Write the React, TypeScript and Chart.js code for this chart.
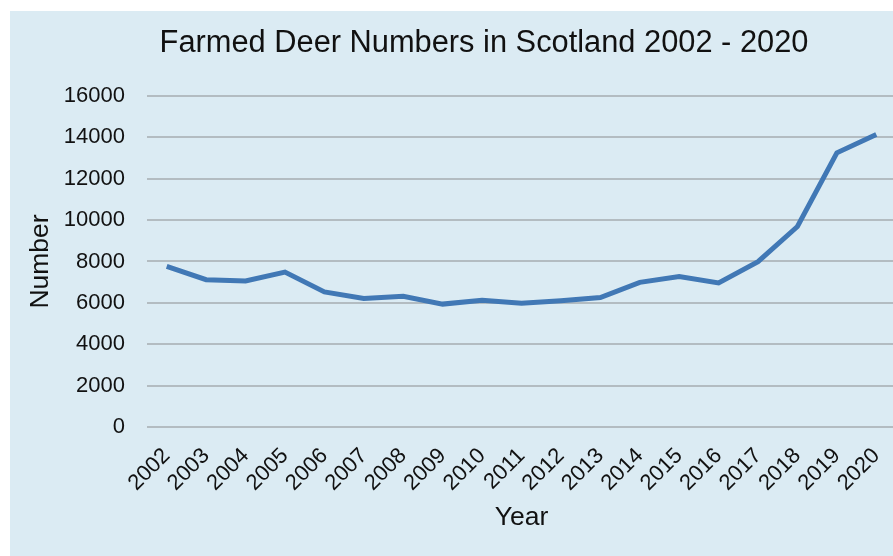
import React, { useEffect, useRef } from "react";
import { Chart, registerables } from "chart.js";

Chart.register(...registerables);

const years = ["2002","2003","2004","2005","2006","2007","2008","2009","2010","2011","2012","2013","2014","2015","2016","2017","2018","2019","2020"];
const deerNumbers = [7760, 7120, 7060, 7490, 6530, 6210, 6320, 5940, 6130, 5980, 6100, 6260, 6990, 7270, 6960, 7990, 9690, 13250, 14140];
const yTicks = [0, 2000, 4000, 6000, 8000, 10000, 12000, 14000, 16000];

const FONT = "'Liberation Sans', Arial, Helvetica, sans-serif";
const BG = "#dbebf3";

export default function App() {
  const ref = useRef<HTMLCanvasElement | null>(null);
  useEffect(() => {
    if (!ref.current) return;
    const bgPlugin = {
      id: "bg",
      beforeDraw(chart: any) {
        const { ctx, width, height } = chart;
        ctx.save();
        ctx.fillStyle = BG;
        ctx.fillRect(0, 0, width, height);
        ctx.restore();
      },
      afterLayout(chart: any) {
        const tb = chart.titleBlock;
        if (tb) {
          tb.left += 26;
          tb.right += 26;
        }
      },
    };
    const chart = new Chart(ref.current, {
      type: "line",
      data: {
        labels: years,
        datasets: [
          {
            label: "Farmed Deer",
            data: deerNumbers,
            borderColor: "#4178b5",
            borderWidth: 5,
            pointRadius: 0,
            tension: 0,
            fill: false,
          },
        ],
      },
      options: {
        responsive: false,
        animation: false,
        devicePixelRatio: 1,
        layout: { padding: { left: 10, right: 62, top: 0, bottom: 16 } },
        plugins: {
          legend: { display: false },
          tooltip: { enabled: false },
          title: {
            display: true,
            text: "Farmed Deer Numbers in Scotland 2002 - 2020",
            color: "#111",
            font: { family: FONT, size: 30.8, weight: "normal" },
            padding: { top: 14, bottom: 34 },
          },
        },
        scales: {
          x: {
            offset: true,
            afterFit(scale: any) {
              scale.height = 113;
            },
            grid: { display: false, drawTicks: false },
            border: { display: false },
            ticks: {
              autoSkip: false,
              minRotation: 45,
              maxRotation: 45,
              padding: 16,
              color: "#111",
              font: { family: FONT, size: 22 },
            },
            title: {
              display: true,
              text: "Year",
              color: "#111",
              font: { family: FONT, size: 26.5 },
              padding: { top: 0, bottom: 6 },
            },
          },
          y: {
            min: 0,
            max: 16000,
            afterFit(scale: any) {
              scale.width = 127;
            },
            afterBuildTicks(scale: any) {
              scale.ticks = yTicks.map((v) => ({ value: v }));
            },
            grid: { color: "#b3bcc1", lineWidth: 2, drawTicks: false },
            border: { display: false },
            ticks: {
              padding: 22,
              color: "#111",
              font: { family: FONT, size: 22 },
              callback: (v: any) => String(v),
            },
            title: {
              display: true,
              text: "Number",
              color: "#111",
              font: { family: FONT, size: 26.5 },
              padding: { top: 5, bottom: 8 },
            },
          },
        },
      },
      plugins: [bgPlugin],
    } as any);
    return () => chart.destroy();
  }, []);
  return (
    <div
      style={{
        position: "absolute",
        left: 10,
        top: 11,
        width: 883,
        height: 545,
        overflow: "hidden",
        background: BG,
      }}
    >
      <canvas ref={ref} width={948} height={545} style={{ display: "block" }} />
    </div>
  );
}
